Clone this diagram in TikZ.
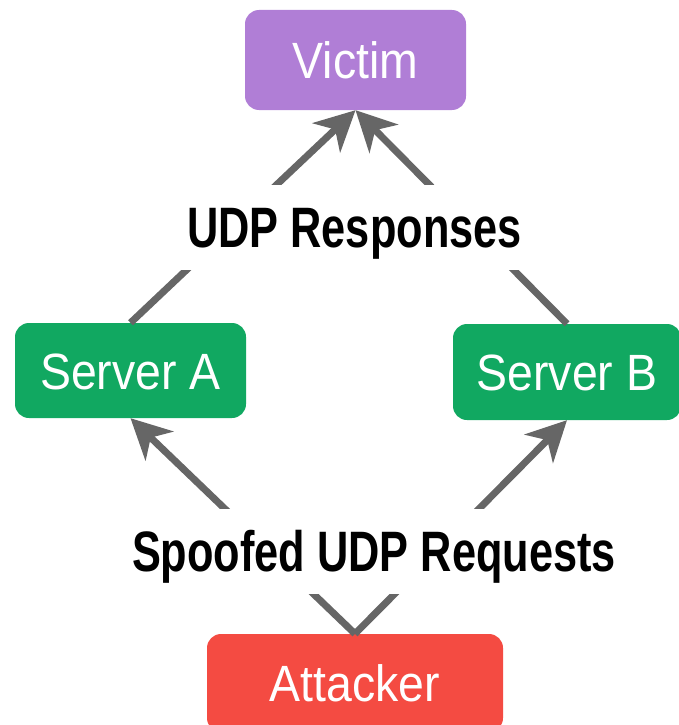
\documentclass[tikz,border=0pt]{standalone}
\usepackage{fontspec}
\setmainfont{Liberation Sans}[FakeStretch=0.91]
\newfontfamily\labelfont{Liberation Sans}[FakeStretch=0.76]
\usetikzlibrary{arrows.meta}

\definecolor{victimpurple}{HTML}{B07ED6}
\definecolor{servergreen}{HTML}{11A861}
\definecolor{attackred}{HTML}{F44B42}
\definecolor{linkgray}{HTML}{666666}

\tikzset{
  box/.style={rounded corners=14pt, text=white, font=\fontsize{51}{51}\selectfont,
    inner sep=0pt, text height=37pt, text depth=0pt},
  flowlabel/.style={fill=white, inner sep=0pt, text height=41pt, text depth=0pt,
    minimum height=85pt, font=\labelfont\bfseries\fontsize{57}{57}\selectfont},
  link/.style={draw=linkgray, line width=7pt,
    -{Stealth[length=40pt, width=40pt, inset=12pt]}}
}

\begin{document}
\begin{tikzpicture}[x=1pt, y=-1pt]
  \useasboundingbox (0,0) rectangle (679,725);
  \clip (0,0) rectangle (679,725);

  % hosts
  \node[box, fill=victimpurple, minimum width=221pt, minimum height=100pt]
    (victim) at (355.5,60) {Victim};
  \node[box, fill=servergreen, minimum width=231pt, minimum height=95pt]
    (srvA) at (130.5,370.5) {Server A};
  \node[box, fill=servergreen, minimum width=228pt, minimum height=96pt]
    (srvB) at (567,372) {Server B};
  \node[box, fill=attackred, minimum width=296pt, minimum height=98pt]
    (attacker) at (355,683) {Attacker};

  % reflected traffic
  \draw[link] (srvA.north) -- (victim.south);
  \draw[link] (srvB.north) -- (victim.south);
  % spoofed requests
  \draw[link] (attacker.north) -- (srvA.south);
  \draw[link] (attacker.north) -- (srvB.south);

  % captions on top of the links
  \node[flowlabel, minimum width=350pt] (respLabel) at (354.5,227) {UDP Responses};
  \node[flowlabel, minimum width=500pt] (reqLabel) at (374,551) {Spoofed UDP Requests};
\end{tikzpicture}
\end{document}
